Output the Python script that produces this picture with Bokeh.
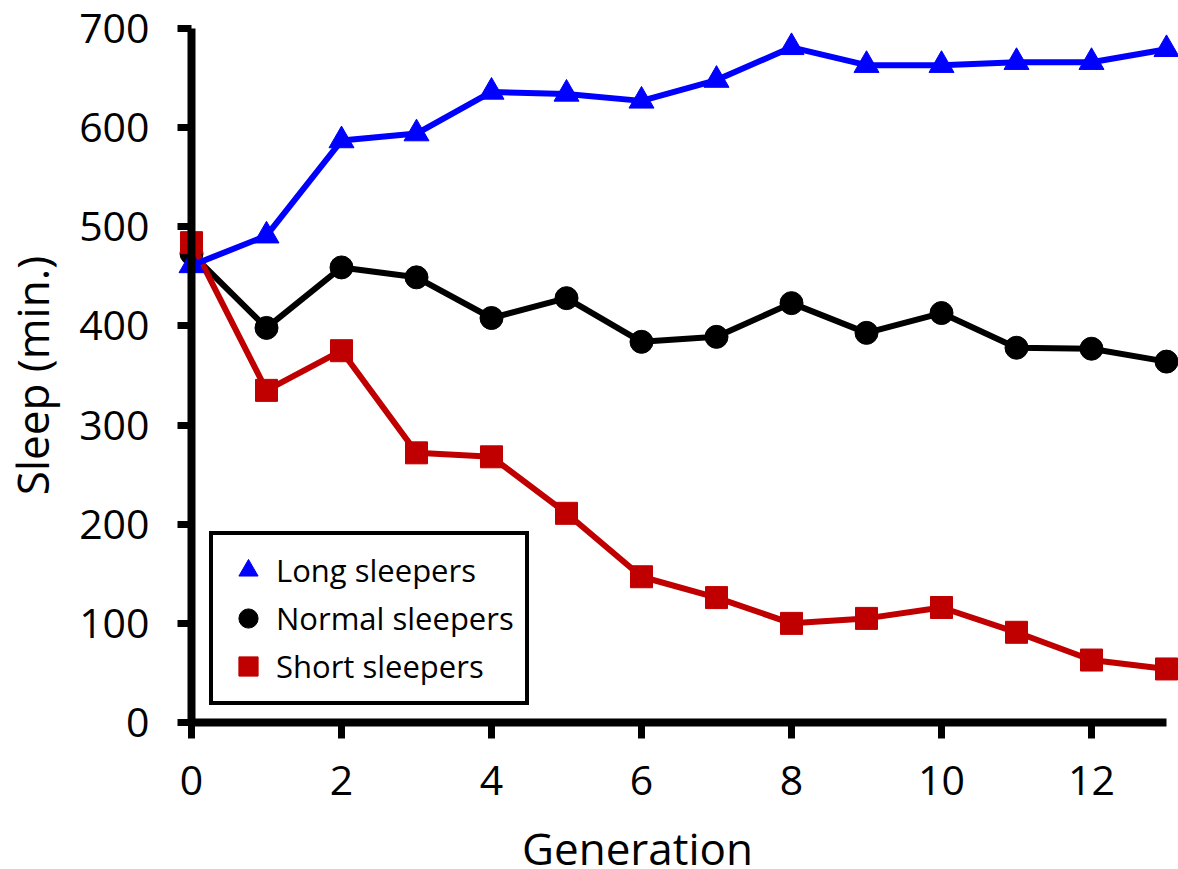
from bokeh.plotting import figure
from bokeh.models import Range1d, Legend, LegendItem, Label, FixedTicker
from bokeh.embed import file_html
from bokeh.resources import INLINE

# ---- data ----
generation = list(range(14))
long_sleepers = [461, 491, 587, 594, 636, 634, 627, 648, 681, 663, 663, 666, 666, 679]
normal_sleepers = [473, 398, 459, 449, 408, 428, 384, 389, 423, 393, 413, 378, 377, 364]
short_sleepers = [484, 335, 375, 272, 268, 211, 147, 126, 100, 105, 116, 91, 63, 54]
series_names = ["Long sleepers", "Normal sleepers", "Short sleepers"]
x_ticks = [0, 2, 4, 6, 8, 10, 12]
y_ticks = [0, 100, 200, 300, 400, 500, 600, 700]
x_title = "Generation"
y_title = "Sleep (min.)"

FONT = "Open Sans"
BLUE = "#0000FF"
BLACK = "#000000"
RED = "#C00000"

# frame fills the whole canvas; axes are drawn at generation 0 / sleep 0
p = figure(width=1178, height=866, output_backend="svg", toolbar_location=None,
           x_range=Range1d(-2.5467, 13.16), y_range=Range1d(-145.24, 728.24),
           min_border=0, min_border_left=0, min_border_right=0,
           min_border_top=0, min_border_bottom=0, outline_line_color=None,
           background_fill_color="white", border_fill_color="white")
p.xgrid.visible = False
p.ygrid.visible = False

for ax in p.axis:
    ax.axis_line_width = 8
    ax.axis_line_color = "black"
    ax.major_tick_line_width = 7
    ax.major_tick_line_color = "black"
    ax.major_tick_in = 0
    ax.minor_tick_in = 0
    ax.minor_tick_out = 0
    ax.major_label_text_font = FONT
    ax.major_label_text_font_size = "41px"
    ax.major_label_text_color = "black"

xa = p.xaxis[0]
xa.fixed_location = y_ticks[0]
xa.ticker = FixedTicker(ticks=x_ticks)
xa.bounds = (generation[0], generation[-1])
xa.major_tick_out = 16
xa.major_label_standoff = 27

ya = p.yaxis[0]
ya.fixed_location = generation[0]
ya.ticker = FixedTicker(ticks=y_ticks)
ya.bounds = (y_ticks[0], y_ticks[-1])
ya.major_tick_out = 14
ya.major_label_standoff = 28
ya.axis_label = y_title
ya.axis_label_text_font = FONT
ya.axis_label_text_font_size = "44px"
ya.axis_label_text_font_style = "normal"
ya.axis_label_text_color = "black"
ya.axis_label_standoff = 14

# ---- series ----
p.line(generation, normal_sleepers, line_color=BLACK, line_width=6)
r_n = p.scatter(generation, normal_sleepers, marker="circle", size=23,
                fill_color=BLACK, line_color=BLACK)
p.line(generation, short_sleepers, line_color=RED, line_width=6)
r_s = p.scatter(generation, short_sleepers, marker="square", size=22,
                fill_color=RED, line_color=RED)
p.line(generation, long_sleepers, line_color=BLUE, line_width=6)
r_l = p.scatter(generation, long_sleepers, marker="triangle", size=25,
                fill_color=BLUE, line_color=BLUE)

legend = Legend(items=[LegendItem(label=series_names[0], renderers=[r_l]),
                       LegendItem(label=series_names[1], renderers=[r_n]),
                       LegendItem(label=series_names[2], renderers=[r_s])],
                location=(209, 161), glyph_width=48, glyph_height=48, padding=11,
                spacing=0, label_standoff=4, label_width=233,
                label_text_font=FONT, label_text_font_size="31px",
                label_text_color="black",
                border_line_color="black", border_line_width=4,
                border_line_alpha=1.0,
                background_fill_color="white", background_fill_alpha=1.0)
p.add_layout(legend)

x_label = Label(x=637, y=19, x_units="screen", y_units="screen", text=x_title,
                text_align="center", text_baseline="alphabetic",
                text_font=FONT, text_font_size="44px", text_color="black")
p.add_layout(x_label)

open("out.html", "w").write(file_html(p, INLINE))
